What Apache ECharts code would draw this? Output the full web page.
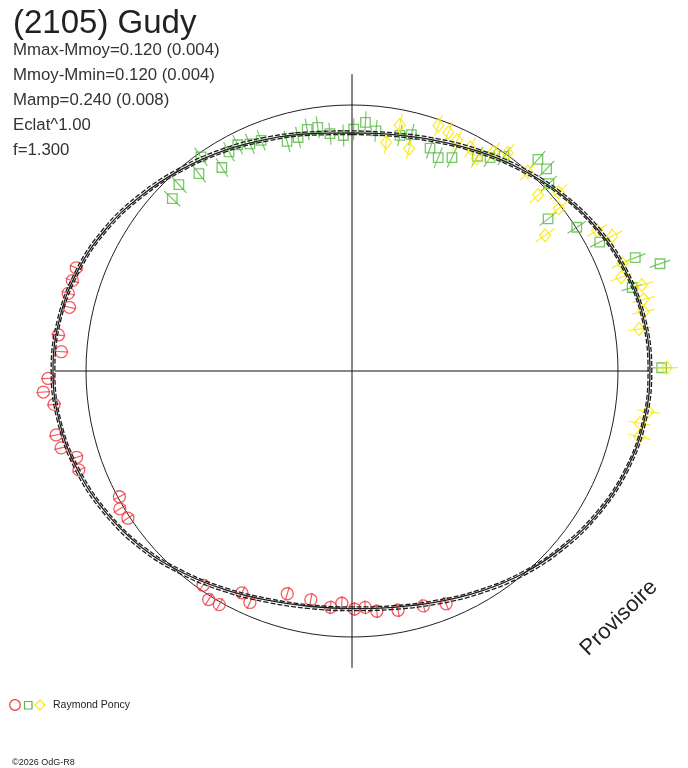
<!DOCTYPE html>
<html>
<head>
<meta charset="utf-8">
<script src="https://cdn.jsdelivr.net/npm/echarts@6/dist/echarts.min.js"></script>
<style>
  html, body { margin: 0; padding: 0; background: #fff; }
  #chart { width: 688px; height: 768px; }
</style>
</head>
<body>
<div id="chart"></div>
<script>
// Polar lightcurve of (2105) Gudy : angle = rotational phase (deg), radius = relative flux (1 = mean)
const curveAngles = [0, 10, 20, 30, 40, 50, 60, 70, 80, 90, 100, 110, 120, 130, 140, 150, 160, 170, 180,
  190, 200, 210, 220, 230, 240, 250, 260, 270, 280, 290, 300, 310, 320, 330, 340, 350, 360];
const curveMid = [0.895, 0.902, 0.922, 0.953, 0.990, 1.030, 1.066, 1.095, 1.114, 1.120, 1.114, 1.096, 1.068,
  1.033, 0.996, 0.958, 0.925, 0.902, 0.893, 0.899, 0.918, 0.950, 0.990, 1.032, 1.067, 1.096, 1.116, 1.124,
  1.117, 1.098, 1.068, 1.030, 0.992, 0.958, 0.928, 0.906, 0.895];
const curveOuter = [0.903, 0.909, 0.930, 0.961, 0.998, 1.037, 1.074, 1.102, 1.121, 1.127, 1.121, 1.103, 1.075,
  1.041, 1.004, 0.966, 0.933, 0.910, 0.901, 0.907, 0.926, 0.958, 0.998, 1.040, 1.075, 1.104, 1.123, 1.131,
  1.124, 1.105, 1.076, 1.038, 1.000, 0.966, 0.936, 0.913, 0.903];
const curveInner = [0.889, 0.896, 0.915, 0.946, 0.983, 1.024, 1.060, 1.089, 1.108, 1.113, 1.108, 1.090, 1.061,
  1.026, 0.989, 0.951, 0.918, 0.896, 0.887, 0.893, 0.911, 0.943, 0.983, 1.025, 1.060, 1.089, 1.110, 1.117,
  1.111, 1.091, 1.061, 1.023, 0.985, 0.951, 0.921, 0.900, 0.889];

// session 1 (red circles)
const redAngle = [290.5, 287.9, 285.3, 282.7, 277.0, 273.8, 268.6, 266.1, 263.6, 257.8, 255.2, 252.6, 250.1,
  241.6, 239.3, 236.7, 214.8, 212.1, 209.6, 206.4, 203.8, 196.2, 190.2, 185.2, 182.5, 179.4, 176.8, 174.1,
  169.1, 163.1, 158.0];
const redRadius = [1.107, 1.105, 1.106, 1.089, 1.112, 1.095, 1.143, 1.163, 1.127, 1.138, 1.131, 1.085, 1.092,
  0.994, 1.015, 1.008, 0.981, 1.014, 1.010, 0.931, 0.951, 0.872, 0.874, 0.892, 0.874, 0.895, 0.890, 0.908,
  0.916, 0.923, 0.944];

// session 2 (green squares)
const greenAngle = [313.8, 317.1, 322.2, 324.8, 327.4, 330.7, 333.2, 335.8, 338.5, 344.2, 347.0, 349.5, 352.0,
  354.7, 357.9, 0.4, 3.1, 5.7, 11.5, 14.1, 19.3, 22.0, 25.1, 30.3, 32.9, 35.3, 41.3, 43.9, 46.4, 52.2, 57.4,
  62.5, 68.2, 70.8, 73.4, 89.4];
const greenRadius = [0.936, 0.956, 0.939, 0.985, 0.908, 0.945, 0.953, 0.936, 0.932, 0.897, 0.901, 0.924, 0.925,
  0.896, 0.886, 0.909, 0.936, 0.907, 0.904, 0.916, 0.888, 0.865, 0.886, 0.935, 0.955, 0.989, 1.059, 1.055,
  1.022, 0.933, 1.003, 1.050, 1.147, 1.226, 1.099, 1.164];

// session 3 (yellow diamonds)
const yellowAngle = [8.5, 11.0, 14.4, 19.4, 22.0, 24.5, 27.9, 30.4, 32.9, 35.5, 41.4, 46.6, 49.1, 51.8, 54.9,
  60.2, 62.6, 68.3, 70.8, 73.5, 76.2, 78.5, 81.7, 89.4, 97.8, 100.3, 102.9];
const yellowRadius = [0.869, 0.942, 0.864, 0.978, 0.967, 0.953, 0.950, 0.927, 0.979, 1.007, 0.999, 0.963,
  1.027, 0.989, 0.887, 1.062, 1.102, 1.094, 1.072, 1.136, 1.129, 1.118, 1.091, 1.183, 1.124, 1.100, 1.108];

const infoLines = ['Mmax-Mmoy=0.120 (0.004)', 'Mmoy-Mmin=0.120 (0.004)', 'Mamp=0.240 (0.008)', 'Eclat^1.00', 'f=1.300'];

const FONT = '"Liberation Sans", Arial, sans-serif';
const RED = '#f0353d', GREEN = '#56b944', YELLOW = '#f7e800', INK = '#222';
const axisReach = 1.116;

const pairs = (rs, as) => rs.map((r, i) => [r, as[i]]);

const chart = echarts.init(document.getElementById('chart'), null, { renderer: 'canvas' });

function curve(values, dashed) {
  return {
    type: 'line', coordinateSystem: 'polar', data: pairs(values, curveAngles),
    smooth: 0.4, symbol: 'none', clip: false, silent: true,
    lineStyle: { color: '#1e1e1e', width: 1.3, type: dashed ? [5, 2] : 'solid' }
  };
}
function markers(rs, as, symbol, size, color) {
  return {
    type: 'scatter', coordinateSystem: 'polar', data: pairs(rs, as), clip: false, silent: true,
    symbol: symbol, symbolSize: size,
    itemStyle: { color: 'rgba(0,0,0,0)', borderColor: color, borderWidth: 1.3 }
  };
}
function errorBars(rs, as, len, color) {
  return {
    type: 'scatter', coordinateSystem: 'polar', data: pairs(rs, as), clip: false, silent: true,
    symbol: 'rect', symbolSize: [1.2, len], symbolRotate: (v) => -v[1],
    itemStyle: { color: color }
  };
}

const option = {
  animation: false,
  backgroundColor: '#fff',
  title: {
    text: '(2105) Gudy',
    subtext: infoLines.join('\n'),
    left: 8, top: 4, itemGap: -4,
    textStyle: { fontFamily: FONT, fontSize: 33, fontWeight: 'normal', color: INK, lineHeight: 30 },
    subtextStyle: { fontFamily: FONT, fontSize: 16.8, color: '#333', lineHeight: 25 }
  },
  polar: { center: [352, 371], radius: 532 },
  angleAxis: { type: 'value', min: 0, max: 360, startAngle: 90, clockwise: true, show: false },
  radiusAxis: {
    type: 'value', min: 0, max: 2, interval: 1,
    axisLine: { show: false }, axisTick: { show: false }, axisLabel: { show: false },
    splitLine: { show: true, lineStyle: { color: INK, width: 1 } }
  },
  series: [
    {
      type: 'line', coordinateSystem: 'polar', symbol: 'none', clip: false, silent: true,
      data: [[axisReach, 0], [0, 0], [axisReach, 180]],
      lineStyle: { color: '#111', width: 1 }
    },
    {
      type: 'line', coordinateSystem: 'polar', symbol: 'none', clip: false, silent: true,
      data: [[axisReach, 90], [0, 90], [axisReach, 270]],
      lineStyle: { color: '#111', width: 1 }
    },
    curve(curveMid, false),
    curve(curveOuter, true),
    curve(curveInner, true),
    errorBars(redRadius, redAngle, 14, RED),
    markers(redRadius, redAngle, 'circle', 12, RED),
    errorBars(greenRadius, greenAngle, 22, GREEN),
    markers(greenRadius, greenAngle, 'rect', 9.5, GREEN),
    errorBars(yellowRadius, yellowAngle, 23, YELLOW),
    markers(yellowRadius, yellowAngle, 'diamond', [11, 13], YELLOW)
  ],
  graphic: [
    {
      type: 'text', x: 619, y: 618, rotation: 0.77,
      style: { text: 'Provisoire', font: '22px ' + FONT, fill: INK, align: 'center', verticalAlign: 'middle' }
    },
    { type: 'circle', shape: { cx: 15, cy: 705, r: 5.3 }, style: { fill: 'none', stroke: RED, lineWidth: 1.2 } },
    { type: 'rect', shape: { x: 24.5, y: 701.5, width: 7.5, height: 7.5 }, style: { fill: 'none', stroke: GREEN, lineWidth: 1.2 } },
    {
      type: 'polygon', shape: { points: [[40, 700], [45, 705], [40, 710], [35, 705]] },
      style: { fill: 'none', stroke: YELLOW, lineWidth: 1.2 }
    },
    {
      type: 'text', x: 53, y: 705,
      style: { text: 'Raymond Poncy', font: '10.5px ' + FONT, fill: INK, verticalAlign: 'middle' }
    },
    {
      type: 'text', x: 12, y: 763,
      style: { text: '©2026 OdG-R8', font: '9px ' + FONT, fill: INK, verticalAlign: 'middle' }
    }
  ]
};

chart.setOption(option);
</script>
</body>
</html>
